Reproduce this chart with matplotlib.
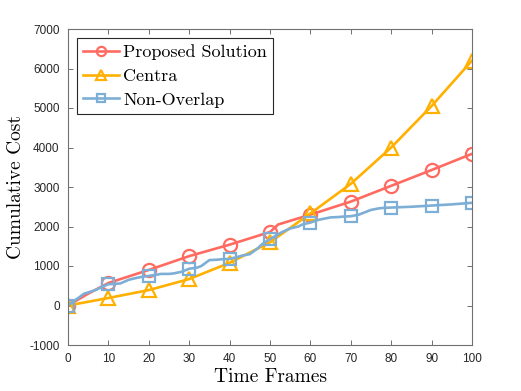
import matplotlib
matplotlib.use('Agg')
import matplotlib.pyplot as plt

plt.rcParams['axes.unicode_minus'] = False

# data
prop_x = [0, 5, 10, 20, 30, 40, 50, 52, 60, 70, 80, 90, 100]
prop_y = [0, 300, 570, 900, 1250, 1540, 1860, 2050, 2300, 2630, 3030, 3430, 3840]

centra_x = [0, 10, 20, 30, 40, 50, 60, 70, 80, 90, 100]
centra_y = [0, 190, 390, 670, 1080, 1600, 2330, 3080, 4000, 5050, 6200]

nonov_x = [0, 2, 4, 5, 7, 8, 10, 12, 13, 15, 17, 18, 20, 22, 23, 25, 26, 28, 30,
           32, 33, 35, 37, 38, 40, 42, 43, 45, 47, 48, 50, 52, 53, 55, 57, 58, 60,
           62, 63, 65, 67, 68, 70, 72, 73, 75, 77, 78, 80, 85, 90, 95, 100]
nonov_y = [0, 150, 300, 330, 400, 450, 540, 550, 560, 650, 700, 720, 750, 780, 800,
           800, 810, 850, 930, 960, 1000, 1150, 1160, 1170, 1180, 1230, 1260, 1300,
           1450, 1550, 1680, 1800, 1860, 1950, 2000, 2050, 2100, 2170, 2190, 2230,
           2240, 2250, 2260, 2300, 2340, 2420, 2460, 2470, 2480, 2500, 2530, 2560, 2600]

labels = ['Proposed Solution', 'Centra', 'Non-Overlap']
colors = ['#FF6B61', '#FFB000', '#7DAFD6']

fig = plt.figure(figsize=(5.21, 3.91), dpi=100)
ax = fig.add_axes([68/521, 1-345/391, 404/521, 316/391])

style = dict(lw=1.9, ms=9.5, mew=1.6, mfc='none')
ax.plot(prop_x, prop_y, marker='o', color=colors[0], label=labels[0],
        markevery=[x % 10 == 0 for x in prop_x], **style)
ax.plot(centra_x, centra_y, marker='^', color=colors[1], label=labels[1], **style)
ax.plot(nonov_x, nonov_y, marker='s', color=colors[2], label=labels[2],
        markevery=[x % 10 == 0 for x in nonov_x], lw=1.9, ms=8, mew=1.6, mfc='none')

ax.set_xlim(0, 100)
ax.set_ylim(-1000, 7000)
ax.set_xticks(range(0, 101, 10))
ax.set_yticks(range(-1000, 7001, 1000))

for s in ax.spines.values():
    s.set_color('#707070')
    s.set_linewidth(0.8)
ax.tick_params(direction='in', top=True, right=True, length=3.5, width=0.7,
               color='#707070', labelsize=8.5, labelcolor='#262626', pad=6)
for t in ax.get_xticklabels() + ax.get_yticklabels():
    t.set_fontfamily('Liberation Sans')

ax.set_xlabel('Time Frames', fontfamily='cmr10', fontsize=14, labelpad=2)
ax.set_ylabel('Cumulative Cost', fontfamily='cmr10', fontsize=14, labelpad=3)

leg = ax.legend(loc='upper left', bbox_to_anchor=(9/404, 1-9/316), borderaxespad=0,
                prop={'family': 'cmr10', 'size': 13}, fancybox=False,
                edgecolor='#262626', framealpha=1, handlelength=2.0,
                handletextpad=0.2, labelspacing=0.45, borderpad=0.35, markerscale=0.7)
leg.get_frame().set_linewidth(0.8)

fig.savefig('out.png', dpi=100)
